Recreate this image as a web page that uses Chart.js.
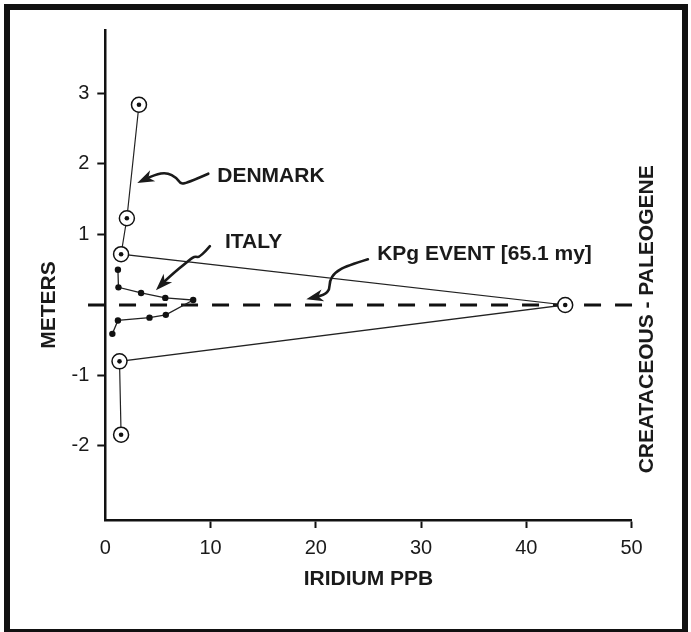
<!DOCTYPE html>
<html>
<head>
<meta charset="utf-8">
<title>Iridium anomaly</title>
<script src="https://cdn.jsdelivr.net/npm/chart.js@4.4.0/dist/chart.umd.min.js"></script>
<style>
  html, body { margin: 0; padding: 0; background: #fff; }
  #wrap { width: 691px; height: 632px; }
</style>
</head>
<body>
<div id="wrap"><canvas id="IridiumChart" width="691" height="632"></canvas></div>
<script>
// iridium (ppb) against height above / below the boundary (m)
const denmarkIridium = [3.2, 2.05, 1.5, 43.7, 1.35, 1.5];
const denmarkMeters = [2.84, 1.23, 0.72, 0, -0.8, -1.84];

const italyIridium = [1.2, 1.25, 3.4, 5.7, 8.35, 5.75, 4.2, 1.2, 0.67];
const italyMeters = [0.5, 0.25, 0.17, 0.1, 0.07, -0.14, -0.18, -0.22, -0.41];

// boundary line (dashed), runs a bit past the axis on the left
const boundaryIridium = [-1.64, 50.05];
const boundaryMeters = [0, 0];

const xTickValues = [0, 10, 20, 30, 40, 50];
const yTickValues = [-2, -1, 1, 2, 3];

const xTitle = 'IRIDIUM PPB';
const yTitle = 'METERS';
const sideText = ['CREATACEOUS', '-', 'PALEOGENE'];

// labels + squiggly arrows, anchored in data units
const notes = [
  { text: 'DENMARK', x: 10.64, y: 1.82, tipX: 3.04, tipY: 1.73,
    path: [[71, -9.3], [47.7, 1], [42.7, 0], [39.4, -5], [29.4, -10.6], [17.7, -8.3]] },
  { text: 'ITALY', x: 11.37, y: 0.89, tipX: 4.81, tipY: 0.21,
    path: [[54, -44], [44, -32.4], [39, -34], [34, -30.7], [12.3, -12.4]] },
  { text: 'KPg EVENT [65.1 my]', x: 25.83, y: 0.72, tipX: 19.1, tipY: 0.08,
    path: [[61.6, -40], [40, -33.3], [28.3, -26.7], [23.3, -18.3], [23.3, -10], [18.3, -4.3]] }
];

function toPoints(xs, ys) {
  return xs.map((v, i) => ({ x: v, y: ys[i] }));
}

const FONT = '"Liberation Sans", Arial, Helvetica, sans-serif';
const INK = '#1a1a1a';
Chart.defaults.font.family = FONT;
Chart.defaults.color = INK;

function drawArrow(c, tx, ty, offs) {
  const pts = offs.map(o => [tx + o[0], ty + o[1]]);
  pts.push([tx, ty]);
  c.beginPath();
  c.moveTo(pts[0][0], pts[0][1]);
  for (let i = 1; i < pts.length - 1; i++) {
    const mx = (pts[i][0] + pts[i + 1][0]) / 2;
    const my = (pts[i][1] + pts[i + 1][1]) / 2;
    c.quadraticCurveTo(pts[i][0], pts[i][1], mx, my);
  }
  const prev = pts[pts.length - 2];
  const ang = Math.atan2(ty - prev[1], tx - prev[0]);
  // stop the shaft under the head
  c.lineTo(tx - Math.cos(ang) * 8, ty - Math.sin(ang) * 8);
  c.stroke();

  const len = 17, half = 6;
  c.save();
  c.translate(tx, ty);
  c.rotate(ang);
  c.beginPath();
  c.moveTo(0, 0);
  c.lineTo(-len, -half);
  c.lineTo(-len * 0.72, 0);
  c.lineTo(-len, half);
  c.closePath();
  c.fill();
  c.restore();
}

const decor = {
  id: 'decor',
  beforeDraw(chart) {
    const c = chart.ctx;
    c.save();
    c.fillStyle = '#fff';
    c.fillRect(0, 0, chart.width, chart.height);
    // heavy frame round the figure
    c.strokeStyle = '#111';
    c.lineWidth = 6;
    c.strokeRect(7, 7, chart.width - 13, chart.height - 7);
    c.restore();
  },
  afterDatasetsDraw(chart) {
    const c = chart.ctx;
    const xs = chart.scales.x, ys = chart.scales.y;
    const y0 = ys.getPixelForValue(0);
    c.save();
    c.fillStyle = INK;
    c.strokeStyle = INK;
    c.lineWidth = 2.6;
    c.lineCap = 'round';
    c.lineJoin = 'round';
    c.font = 'bold 21px ' + FONT;
    c.textBaseline = 'middle';
    c.textAlign = 'left';

    notes.forEach(n => {
      c.fillText(n.text, xs.getPixelForValue(n.x), ys.getPixelForValue(n.y));
      drawArrow(c, xs.getPixelForValue(n.tipX), ys.getPixelForValue(n.tipY), n.path);
    });

    // y title, centred on the boundary
    c.save();
    c.translate(49.5, y0);
    c.rotate(-Math.PI / 2);
    c.textAlign = 'center';
    c.fillText(yTitle, 0, 0);
    c.restore();

    // CREATACEOUS - PALEOGENE, dash sits on the boundary line
    const full = sideText.join(' ');
    const before = c.measureText(sideText[0] + ' ').width + c.measureText(sideText[1]).width / 2;
    c.save();
    c.translate(xs.right + 15.5, y0 + before);
    c.rotate(-Math.PI / 2);
    c.textAlign = 'left';
    c.fillText(full, 0, 0);
    c.restore();

    c.restore();
  }
};

const ctx = document.getElementById('IridiumChart').getContext('2d');
const iridiumChart = new Chart(ctx, {
  type: 'scatter',
  data: {
    datasets: [{
      label: 'Denmark centres',
      data: toPoints(denmarkIridium, denmarkMeters),
      showLine: false,
      pointRadius: 2.3,
      pointBackgroundColor: '#111',
      pointBorderWidth: 0,
      order: 0
    }, {
      label: 'Denmark',
      data: toPoints(denmarkIridium, denmarkMeters),
      showLine: true,
      borderColor: '#222',
      borderWidth: 1.2,
      pointRadius: 7.5,
      pointBackgroundColor: '#fff',
      pointBorderColor: '#111',
      pointBorderWidth: 1.5,
      order: 1
    }, {
      label: 'Italy',
      data: toPoints(italyIridium, italyMeters),
      showLine: true,
      borderColor: '#222',
      borderWidth: 1.3,
      pointRadius: 3.2,
      pointBackgroundColor: '#111',
      pointBorderWidth: 0,
      order: 2
    }, {
      label: 'KPg boundary',
      data: toPoints(boundaryIridium, boundaryMeters),
      showLine: true,
      borderColor: '#111',
      borderWidth: 3,
      borderDash: [17, 14],
      pointRadius: 0,
      clip: false,
      order: 3
    }]
  },
  options: {
    responsive: false,
    animation: false,
    layout: { padding: { top: 30, right: 59.5, bottom: 0, left: 0 } },
    plugins: {
      legend: { display: false },
      tooltip: { enabled: false }
    },
    scales: {
      x: {
        type: 'linear',
        min: 0,
        max: 50,
        afterBuildTicks: s => { s.ticks = xTickValues.map(v => ({ value: v })); },
        afterFit: s => { s.height = 112; },
        border: { display: true, color: '#111', width: 2.5 },
        grid: {
          drawOnChartArea: false,
          drawTicks: true,
          tickLength: 8,
          tickWidth: 2,
          tickColor: c => (c.tick && c.tick.value === 0) ? 'rgba(0,0,0,0)' : '#111'
        },
        ticks: { color: INK, font: { size: 20 }, padding: 8, maxRotation: 0 },
        title: {
          display: true,
          text: xTitle,
          color: INK,
          font: { size: 21, weight: 'bold' },
          padding: { top: 0, bottom: 40 }
        }
      },
      y: {
        type: 'linear',
        min: -3.05,
        max: 3.9,
        afterBuildTicks: s => { s.ticks = yTickValues.map(v => ({ value: v })); },
        afterFit: s => { s.width = 105.3; },
        border: { display: true, color: '#111', width: 2.5 },
        grid: {
          drawOnChartArea: false,
          drawTicks: true,
          tickLength: 8,
          tickWidth: 2,
          tickColor: '#111'
        },
        ticks: { color: INK, font: { size: 20 }, padding: 8 }
      }
    }
  },
  plugins: [decor]
});
</script>
</body>
</html>
